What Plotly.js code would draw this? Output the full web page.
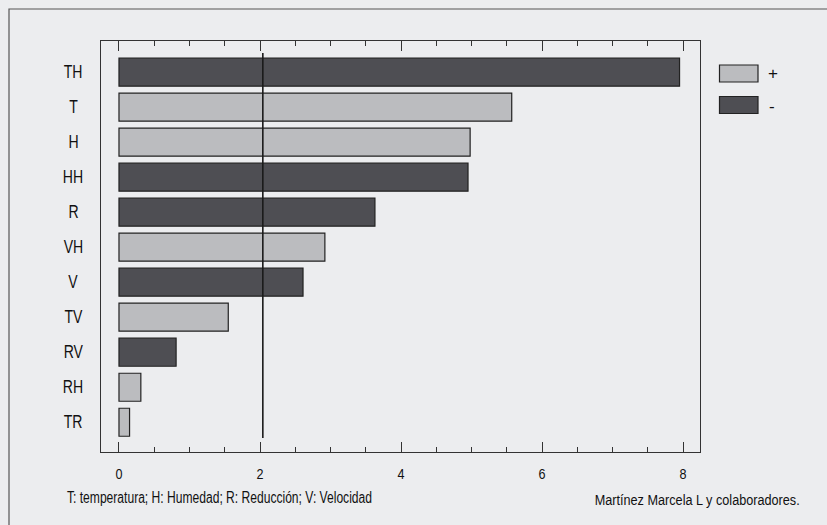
<!DOCTYPE html>
<html>
<head>
<meta charset="utf-8">
<script src="https://cdn.plot.ly/plotly-3.0.1.min.js"></script>
<style>
  html, body { margin: 0; padding: 0; background: #ECEDEF; }
  #chart { width: 827px; height: 525px; }
</style>
</head>
<body>
<div id="chart"></div>
<script>
// Standardized effects (Pareto), top to bottom
const factors = ['TH', 'T', 'H', 'HH', 'R', 'VH', 'V', 'TV', 'RV', 'RH', 'TR'];
const effects = [7.95, 5.57, 4.98, 4.95, 3.63, 2.92, 2.61, 1.55, 0.81, 0.31, 0.15];
const signs   = ['-', '+', '+', '-', '-', '+', '-', '+', '-', '+', '+'];
const threshold = 2.04;
const xTicks = [0, 2, 4, 6, 8];
const footnote = 'T: temperatura; H: Humedad; R: Reducción; V: Velocidad';
const credit = 'Martínez Marcela L y colaboradores.';

const FONT = '"Liberation Sans Narrow", "Arial Narrow", "Liberation Sans", sans-serif';
const LIGHT = '#BBBCBF';
const DARK = '#4E4E53';
const EDGE = '#222222';
const AXIS = '#333333';

function series(sign) {
  const y = [], x = [];
  factors.forEach((f, i) => { if (signs[i] === sign) { y.push(f); x.push(effects[i]); } });
  return { y, x };
}

const pos = series('+');
const neg = series('-');

const traces = [
  { type: 'bar', orientation: 'h', name: '+', y: pos.y, x: pos.x, width: 0.8,
    marker: { color: LIGHT, line: { color: EDGE, width: 1.2 } }, showlegend: false, hoverinfo: 'skip' },
  { type: 'bar', orientation: 'h', name: '-', y: neg.y, x: neg.x, width: 0.8,
    marker: { color: DARK, line: { color: EDGE, width: 1.2 } }, showlegend: false, hoverinfo: 'skip' }
];

// plot area in pixels: left 101, right 700, top 41, bottom 452
const L = 101, R = 700, T = 41, B = 452;
const px = v => (v - L) / (R - L);
const py = v => (B - v) / (B - T);

const annotations = factors.map(f => ({
  xref: 'paper', yref: 'y', x: px(73), y: f, xanchor: 'center', yanchor: 'middle',
  text: f, showarrow: false, font: { family: FONT, size: 18, color: '#111' }
}));

annotations.push(
  { xref: 'paper', yref: 'paper', x: px(65), y: py(497), xanchor: 'left', yanchor: 'middle',
    text: footnote, showarrow: false, font: { family: FONT, size: 16, color: '#111' } },
  { xref: 'paper', yref: 'paper', x: px(802), y: py(500), xanchor: 'right', yanchor: 'middle',
    text: credit, showarrow: false, font: { family: FONT, size: 14, color: '#111' } },
  { xref: 'paper', yref: 'paper', x: px(766), y: py(73.5), xanchor: 'left', yanchor: 'middle',
    text: '+', showarrow: false, font: { family: FONT, size: 17, color: '#111' } },
  { xref: 'paper', yref: 'paper', x: px(767), y: py(106), xanchor: 'left', yanchor: 'middle',
    text: '-', showarrow: false, font: { family: FONT, size: 17, color: '#111' } }
);

const shapes = [
  // critical value line
  { type: 'line', xref: 'x', yref: 'paper', x0: threshold, x1: threshold, y0: py(53), y1: py(438),
    line: { color: '#1a1a1a', width: 1.6 } },
  // key swatches
  { type: 'rect', xref: 'paper', yref: 'paper', x0: px(719.5), x1: px(758), y0: py(65), y1: py(82),
    fillcolor: LIGHT, line: { color: EDGE, width: 1.2 } },
  { type: 'rect', xref: 'paper', yref: 'paper', x0: px(719.5), x1: px(758), y0: py(96.5), y1: py(113.5),
    fillcolor: DARK, line: { color: EDGE, width: 1.2 } },
  // outer frame (left and top edges visible)
  { type: 'rect', xref: 'paper', yref: 'paper', x0: px(9), x1: px(900), y0: py(9), y1: py(600),
    fillcolor: 'rgba(0,0,0,0)', line: { color: '#555', width: 1.2 } }
];

const layout = {
  width: 827, height: 525,
  margin: { l: L, r: 827 - R, t: T, b: 525 - B, pad: 0 },
  paper_bgcolor: '#ECEDEF', plot_bgcolor: '#ECEDEF',
  barmode: 'overlay',
  showlegend: false,
  font: { family: FONT, color: '#111' },
  xaxis: {
    range: [-0.255, 8.24], tickvals: xTicks, ticktext: xTicks.map(String),
    ticks: 'inside', ticklen: 10, tickwidth: 1, tickcolor: AXIS, ticklabelstandoff: 8,
    minor: { dtick: 0.5, tick0: 0, ticks: 'inside', ticklen: 5, tickwidth: 1, tickcolor: AXIS, showgrid: false },
    showline: true, linecolor: AXIS, linewidth: 1.2, mirror: 'allticks',
    showgrid: false, zeroline: false,
    tickfont: { family: FONT, size: 15, color: '#111' }
  },
  yaxis: {
    type: 'category', categoryorder: 'array', categoryarray: factors,
    range: [10.85, -0.89],
    showticklabels: false, ticks: '',
    showline: true, linecolor: AXIS, linewidth: 1.2, mirror: true,
    showgrid: false, zeroline: false
  },
  shapes, annotations
};

// Condensed lettering: squeeze a text element horizontally (by a factor or to a
// given width), anchored at its left / right edge or its centre.
function narrow(el, opts) {
  const bb = el.getBBox();
  if (!bb.width) return;
  const w = opts.width ? opts.width : bb.width * opts.factor;
  let anchor = 'start', x = bb.x;
  if (opts.anchor === 'right') { anchor = 'end'; x = bb.x + bb.width; }
  else if (opts.anchor === 'center') { anchor = 'middle'; x = bb.x + bb.width / 2; }
  el.setAttribute('text-anchor', anchor);
  el.setAttribute('x', x);
  el.setAttribute('textLength', w);
  el.setAttribute('lengthAdjust', 'spacingAndGlyphs');
}

Plotly.newPlot('chart', traces, layout, { displayModeBar: false, staticPlot: true }).then(gd => {
  gd.querySelectorAll('.annotation-text').forEach(t => {
    const s = t.textContent;
    if (s === footnote) narrow(t, { width: 305, anchor: 'left' });
    else if (s === credit) narrow(t, { width: 205, anchor: 'right' });
    else if (factors.includes(s)) narrow(t, { factor: 0.78, anchor: 'center' });
  });
  gd.querySelectorAll('.xtick text').forEach(t => narrow(t, { factor: 0.84, anchor: 'center' }));
});
</script>
</body>
</html>
